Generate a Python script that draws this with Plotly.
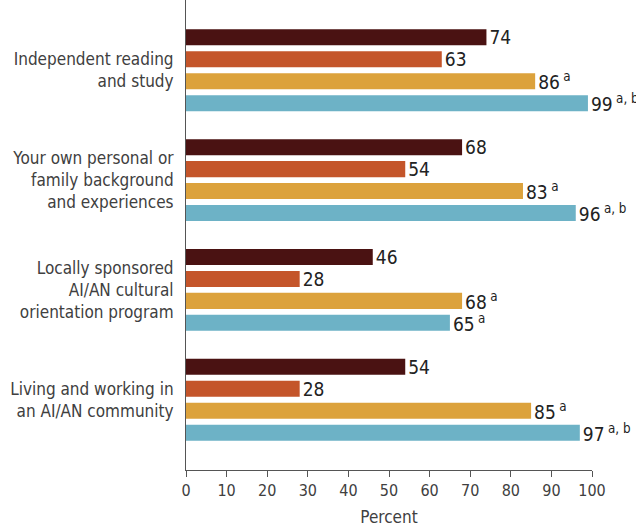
import plotly.graph_objects as go

# Data
categories = [
    "Independent reading<br>and study",
    "Your own personal or<br>family background<br>and experiences",
    "Locally sponsored<br>AI/AN cultural<br>orientation program",
    "Living and working in<br>an AI/AN community",
]
series_names = ["Group 1", "Group 2", "Group 3", "Group 4"]
values = [
    [74, 68, 46, 54],
    [63, 54, 28, 28],
    [86, 83, 68, 85],
    [99, 96, 65, 97],
]
notes = [
    ["", "", "", ""],
    ["", "", "", ""],
    ["a", "a", "a", "a"],
    ["a, b", "a, b", "a", "a, b"],
]
colors = ["#4a1212", "#c4552a", "#dca23c", "#6db2c6"]
x_ticks = list(range(0, 101, 10))

FONT = "DejaVu Sans Condensed, Liberation Sans Narrow, sans-serif"
TEXT_COLOR = "#404040"

fig = go.Figure()
for name, vals, nts, col in zip(series_names, values, notes, colors):
    labels = [f"{v}\u2009<sup>{n}</sup>" if n else f"{v}" for v, n in zip(vals, nts)]
    fig.add_trace(go.Bar(
        y=categories,
        x=vals,
        name=name,
        orientation="h",
        marker=dict(color=col, line=dict(width=0)),
        text=labels,
        textposition="outside",
        constraintext="none",
        textfont=dict(size=19, color="#222222", family=FONT),
        cliponaxis=False,
        showlegend=False,
    ))

fig.update_layout(
    width=636,
    height=527,
    barmode="group",
    bargap=0.2,
    bargroupgap=0.27,
    margin=dict(l=186, r=44, t=0, b=57, autoexpand=False),
    plot_bgcolor="white",
    paper_bgcolor="white",
    font=dict(family=FONT, color=TEXT_COLOR, size=17),
)

fig.update_yaxes(
    categoryorder="array",
    categoryarray=categories,
    range=[3.64, -0.64],
    showline=True,
    linecolor="#555555",
    linewidth=1,
    ticks="",
    showgrid=False,
    automargin=False,
    tickfont=dict(size=17, color=TEXT_COLOR),
    ticklabelstandoff=8,
)

fig.update_xaxes(
    range=[0, 100],
    tickvals=x_ticks,
    ticktext=[str(t) for t in x_ticks],
    showline=True,
    linecolor="#555555",
    linewidth=1,
    ticks="outside",
    ticklen=6,
    tickcolor="#555555",
    showgrid=False,
    zeroline=False,
    automargin=False,
    tickfont=dict(size=16, color=TEXT_COLOR),
    title=dict(text="Percent", font=dict(size=17, color=TEXT_COLOR), standoff=12),
)

# drop the browser's default body margin so the chart sits at the page corner
fig.write_html(
    "out.html",
    config={"displayModeBar": False},
    post_script="document.body.style.margin='0';",
)
